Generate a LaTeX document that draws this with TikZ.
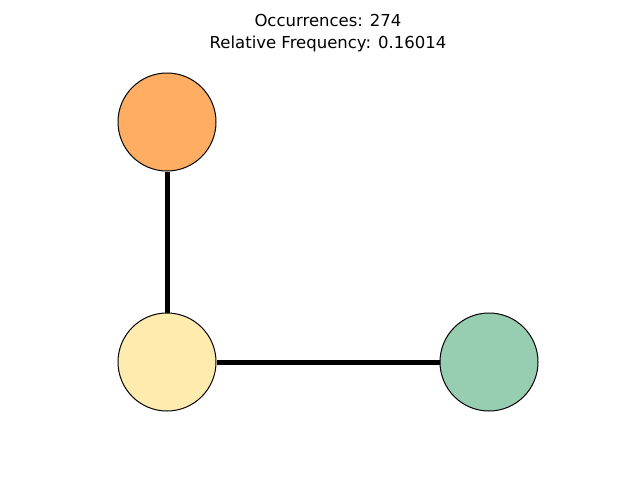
\documentclass[tikz,border=0pt]{standalone}
\usepackage{fontspec}
\setmainfont{DejaVu Sans}
\definecolor{nodeorange}{HTML}{FFAD62}
\definecolor{nodeyellow}{HTML}{FFEBAE}
\definecolor{nodegreen}{HTML}{97CEB2}
\tikzset{
  vertex/.style={circle,draw=black,line width=1pt,minimum size=98pt,inner sep=0pt},
  link/.style={line width=5pt}
}
\begin{document}
\begin{tikzpicture}[x=1pt,y=-1pt]
    \useasboundingbox (0,0) rectangle (640,480);
    
    \node[align=center,font=\fontsize{16.5}{22}\selectfont] (title) at (328,33) {Occurrences: 274\\Relative Frequency: 0.16014};
    
    \node[vertex,fill=nodeorange] (top) at (167,122) {};
    \node[vertex,fill=nodeyellow] (corner) at (167,362) {};
    \node[vertex,fill=nodegreen] (right) at (489,362) {};
    
    \draw[link] (top) -- (corner);
    \draw[link] (corner) -- (right);
\end{tikzpicture}
\end{document}
